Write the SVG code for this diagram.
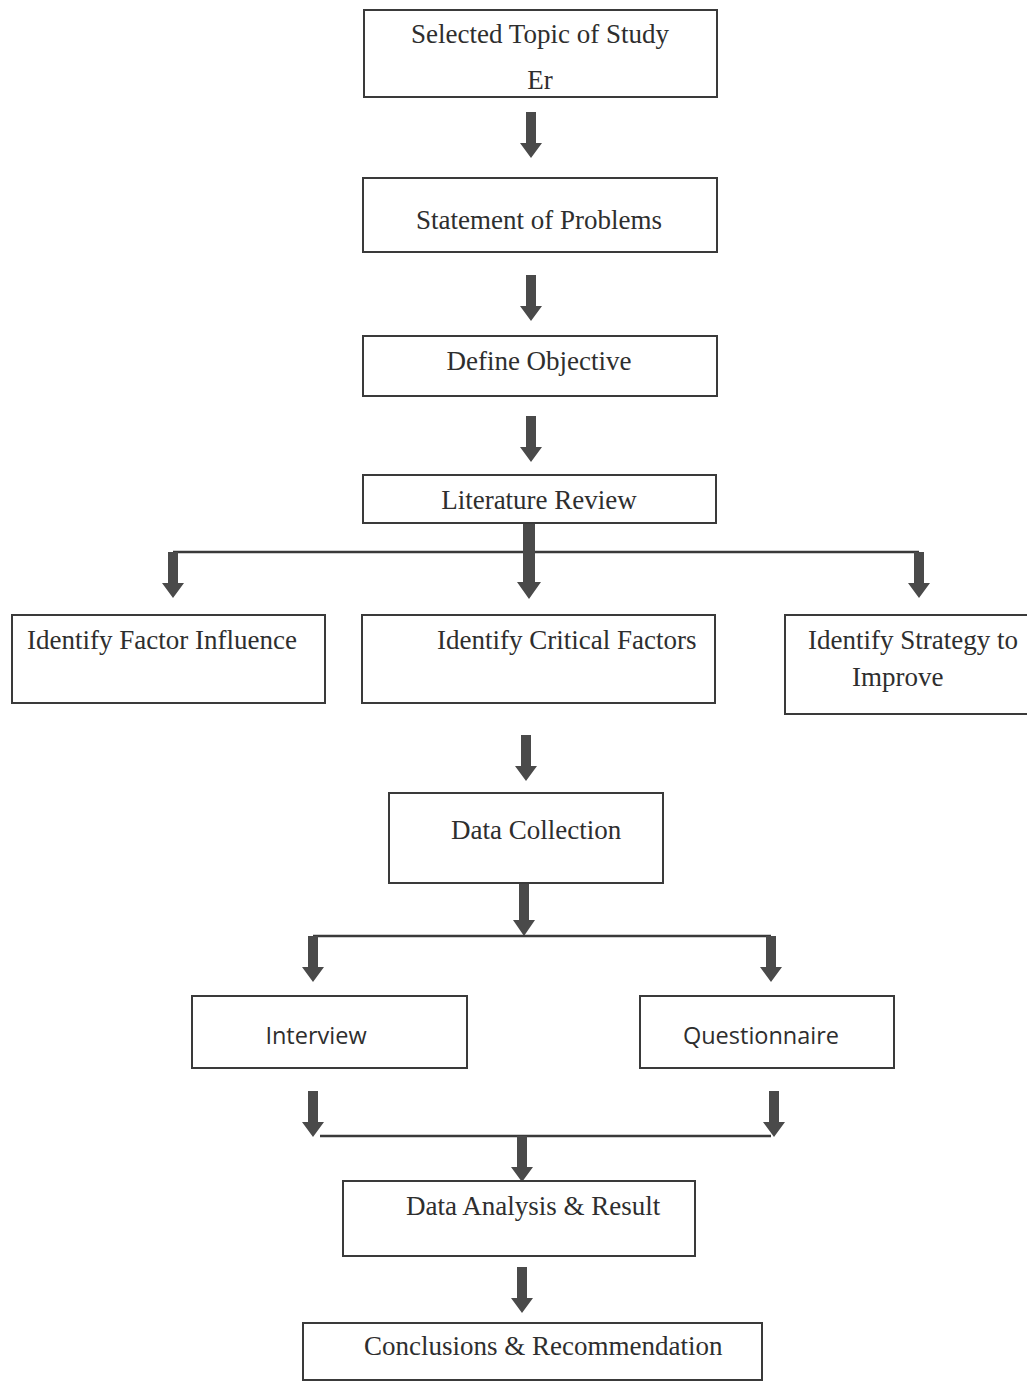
<svg xmlns="http://www.w3.org/2000/svg" width="1027" height="1382" viewBox="0 0 1027 1382">
<style>
.box{fill:#fff;stroke:#3a3a3a;stroke-width:2}
.t{font-family:"Liberation Serif","Times New Roman",serif;font-size:27px;fill:#2e2e2e}
.s{font-family:"Open Sans","Liberation Sans",sans-serif;font-size:23.5px;fill:#2e2e2e}
.arr{fill:#4a4a4a}
.ln{stroke:#3a3a3a;stroke-width:2.5;fill:none}
</style>
<defs>
<path id="a45" d="M-5,0 H5 V31 H11 L0,46 L-11,31 H-5 Z"/>
</defs>
<rect width="1027" height="1382" fill="#fff"/>
<g id="connectors">
<use href="#a45" class="arr" x="531" y="112"/>
<use href="#a45" class="arr" x="531" y="275"/>
<use href="#a45" class="arr" x="531" y="416"/>
<line class="ln" x1="173" y1="552" x2="919" y2="552"/>
<path class="arr" d="M523,523 H535 V582 H541 L529,599 L517,582 H523 Z"/>
<use href="#a45" class="arr" x="173" y="552"/>
<use href="#a45" class="arr" x="919" y="552"/>
<use href="#a45" class="arr" x="526" y="735"/>
<path class="arr" d="M519,883 H529 V920 H535 L524,936 L513,920 H519 Z"/>
<line class="ln" x1="313" y1="936" x2="771" y2="936"/>
<use href="#a45" class="arr" x="313" y="936"/>
<use href="#a45" class="arr" x="771" y="936"/>
<use href="#a45" class="arr" x="313" y="1091"/>
<use href="#a45" class="arr" x="774" y="1091"/>
<line class="ln" x1="320" y1="1136" x2="771" y2="1136"/>
<use href="#a45" class="arr" x="522" y="1136"/>
<use href="#a45" class="arr" x="522" y="1267"/>
</g>
<g id="n1"><rect class="box" x="364" y="10" width="353" height="87"/><text class="t" x="540" y="43" text-anchor="middle">Selected Topic of Study</text><text class="t" x="540" y="89" text-anchor="middle">Er</text></g>
<g id="n2"><rect class="box" x="363" y="178" width="354" height="74"/><text class="t" x="539" y="229" text-anchor="middle">Statement of Problems</text></g>
<g id="n3"><rect class="box" x="363" y="336" width="354" height="60"/><text class="t" x="539" y="370" text-anchor="middle">Define Objective</text></g>
<g id="n4"><rect class="box" x="363" y="475" width="353" height="48"/><text class="t" x="539" y="509" text-anchor="middle">Literature Review</text></g>
<g id="n5"><rect class="box" x="12" y="615" width="313" height="88"/><text class="t" x="27" y="649">Identify Factor Influence</text></g>
<g id="n6"><rect class="box" x="362" y="615" width="353" height="88"/><text class="t" x="437" y="649">Identify Critical Factors</text></g>
<g id="n7"><rect class="box" x="785" y="615" width="245" height="99"/><text class="t" x="808" y="649">Identify Strategy to</text><text class="t" x="852" y="686">Improve</text></g>
<g id="n8"><rect class="box" x="389" y="793" width="274" height="90"/><text class="t" x="451" y="839">Data Collection</text></g>
<g id="n9"><rect class="box" x="192" y="996" width="275" height="72"/><text class="s" x="316" y="1044" text-anchor="middle">Interview</text></g>
<g id="n10"><rect class="box" x="640" y="996" width="254" height="72"/><text class="s" x="761" y="1044" text-anchor="middle">Questionnaire</text></g>
<g id="n11"><rect class="box" x="343" y="1181" width="352" height="75"/><text class="t" x="406" y="1215">Data Analysis &amp; Result</text></g>
<g id="n12"><rect class="box" x="303" y="1323" width="459" height="57"/><text class="t" x="364" y="1355">Conclusions &amp; Recommendation</text></g>
</svg>
